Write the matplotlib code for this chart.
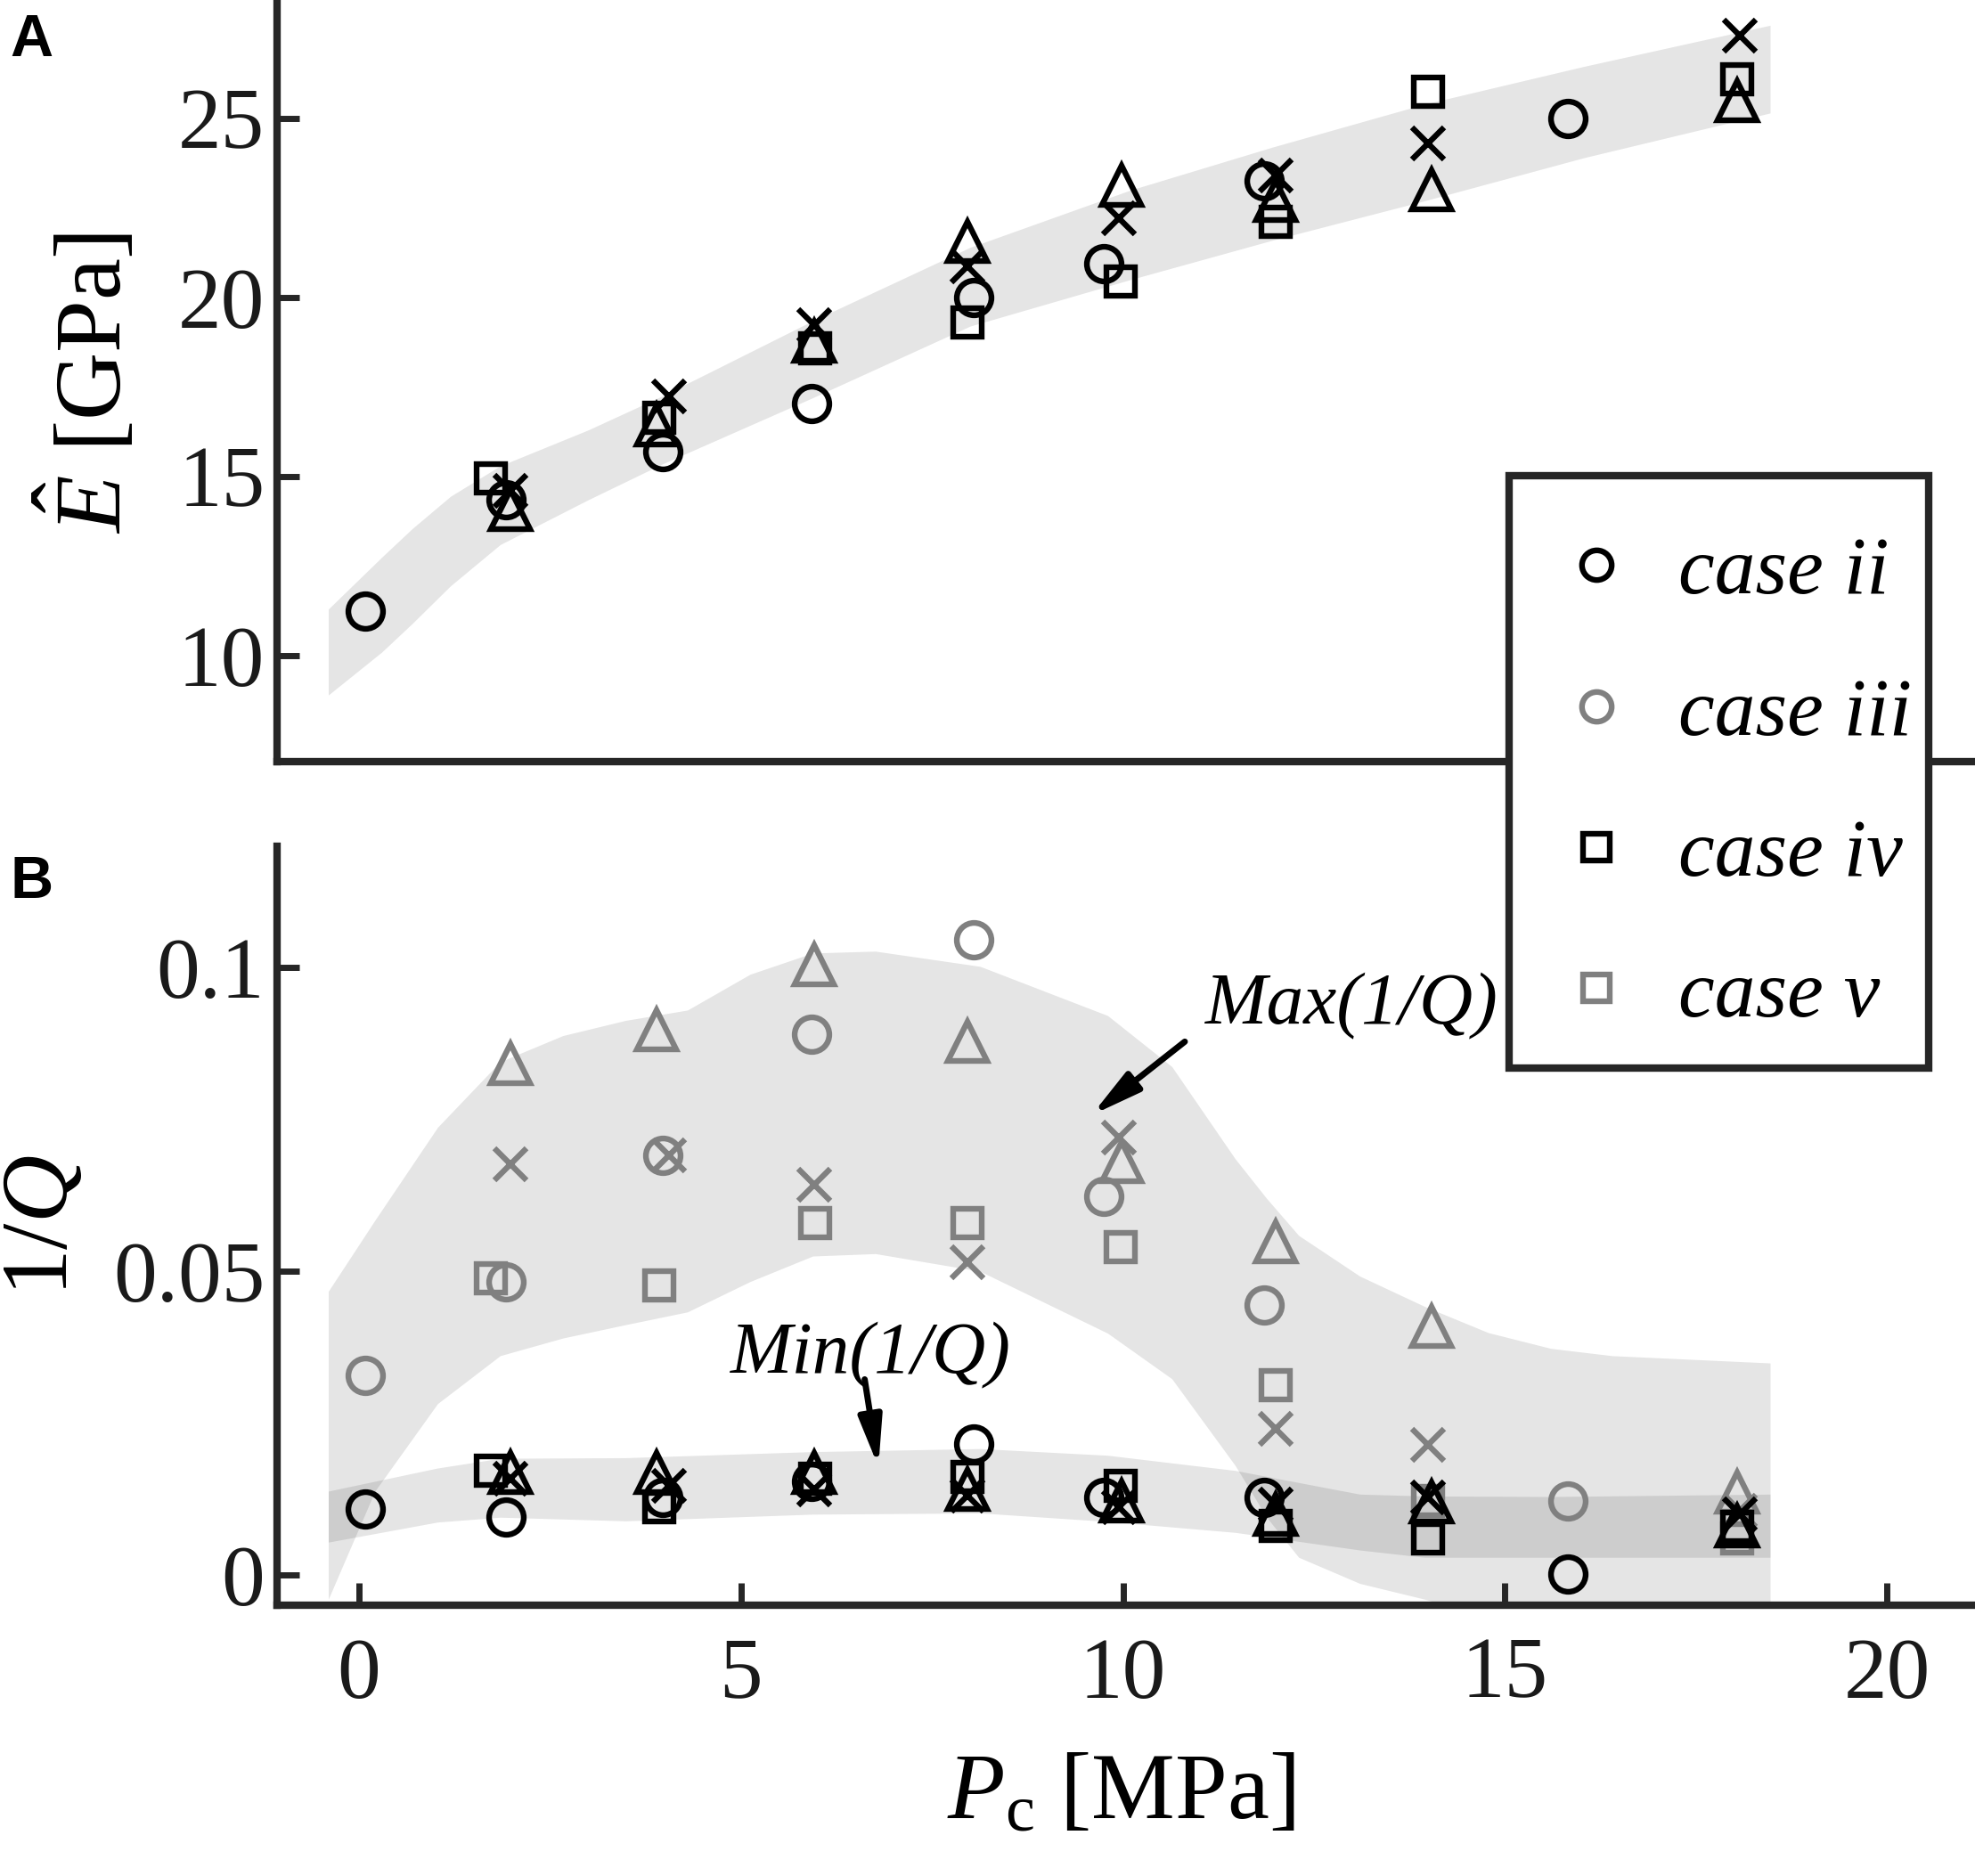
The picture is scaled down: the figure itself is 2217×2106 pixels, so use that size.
import matplotlib
matplotlib.use("Agg")
import matplotlib.pyplot as plt
from matplotlib.lines import Line2D
from matplotlib.patches import Rectangle

plt.rcParams['font.family'] = ['Liberation Serif', 'DejaVu Serif']
plt.rcParams['mathtext.fontset'] = 'custom'
plt.rcParams['mathtext.rm'] = 'Liberation Serif'
plt.rcParams['mathtext.it'] = 'Liberation Serif:italic'

# confining pressure of each marker type [MPa]
p_circ = [0.08, 1.93, 3.98, 5.92, 8.05, 9.75, 11.85, 15.82]
p_sq = [1.73, 3.93, 5.97, 7.97, 9.97, 12.0, 13.99, 18.04]
p_tri = [1.98, 3.9, 5.96, 7.97, 9.98, 12.0, 14.04, 18.04]
p_x = [1.98, 4.06, 5.96, 7.97, 9.95, 12.0, 13.99, 18.07]

# panel A: E hat [GPa]
E_circ = [11.25, 14.35, 15.7, 17.05, 20.0, 20.95, 23.25, 25.0]
E_sq = [14.95, 16.65, 18.57, 19.3, 20.45, 22.1, 25.75, 26.1]
E_tri = [14.08, 16.45, 18.78, 21.57, 23.13, 22.7, 23.0, 25.5]
E_x = [14.6, 17.25, 19.23, 20.87, 22.2, 23.4, 24.3, 27.3]

bandE_p = [-0.4, 0.3, 0.7, 1.2, 1.85, 3.0, 3.97, 5.94, 8.0, 10.1, 11.96, 13.95, 16.03, 18.47]
bandE_hi = [11.3, 12.75, 13.55, 14.45, 15.3, 16.3, 17.25, 19.35, 21.4, 23.0, 24.2, 25.4, 26.45, 27.6]
bandE_lo = [8.9, 10.1, 10.9, 11.95, 13.1, 14.35, 15.35, 17.2, 19.2, 20.5, 21.6, 22.7, 23.9, 25.15]

# panel B: 1/Q, max (gray) and min (black)
Qmax_circ = [0.0328, 0.0483, 0.0691, 0.089, 0.1046, 0.0623, 0.0444, 0.0122]
Qmin_circ = [0.0108, 0.0095, 0.0127, 0.0154, 0.0216, 0.0127, 0.0127, 0.0002]
Qmax_sq = [0.0488, 0.0477, 0.0579, 0.0579, 0.054, 0.0313, 0.0122, 0.006]
Qmin_sq = [0.0172, 0.0112, 0.0158, 0.0162, 0.0147, 0.0081, 0.006, 0.0079]
Qmax_tri = [0.0842, 0.0898, 0.1004, 0.0878, 0.068, 0.0548, 0.0409, 0.0137]
Qmin_tri = [0.0168, 0.0168, 0.0168, 0.0141, 0.0122, 0.01, 0.012, 0.0081]
Qmax_x = [0.0676, 0.0691, 0.0643, 0.0515, 0.072, 0.0241, 0.0214, 0.0106]
Qmin_x = [0.0158, 0.0147, 0.0141, 0.0131, 0.0112, 0.0116, 0.0127, 0.01]

bandMax_p = [-0.4, 0.21, 1.03, 1.85, 2.67, 3.49, 4.3, 5.12, 5.94, 6.76, 8.13, 9.8,
             10.64, 11.47, 11.88, 12.3, 13.1, 13.95, 14.78, 15.6, 16.4, 18.47]
bandMax_hi = [0.0467, 0.0584, 0.0737, 0.0845, 0.0888, 0.0913, 0.093, 0.0989, 0.1024,
              0.1027, 0.1002, 0.0921, 0.0837, 0.0685, 0.062, 0.0559, 0.0492, 0.0442,
              0.0399, 0.0373, 0.0361, 0.0349]
bandMax_lo = [-0.004, 0.0138, 0.0282, 0.0361, 0.039, 0.0412, 0.0433, 0.0483, 0.0525,
              0.0529, 0.05, 0.0398, 0.0323, 0.018, 0.0095, 0.0029, -0.0014, -0.004,
              -0.007, -0.009, -0.01, -0.01]

bandMin_p = [-0.4, 1.03, 1.85, 3.49, 5.94, 8.13, 9.8, 11.47, 13.1, 13.95, 15.6, 18.47]
bandMin_hi = [0.0138, 0.0176, 0.0192, 0.0193, 0.0203, 0.0208, 0.0197, 0.0172, 0.0133,
              0.013, 0.0129, 0.0133]
bandMin_lo = [0.0054, 0.0087, 0.0095, 0.0089, 0.01, 0.0102, 0.0088, 0.007, 0.0041,
              0.0029, 0.0029, 0.0029]

legend_labels = ['case ii', 'case iii', 'case iv', 'case v']

dark = '#262626'
gray = '#808080'
ms = {'o': 14, 's': 11.5, '^': 16, 'x': 13}
mew = 2.3

fig = plt.figure(figsize=(11.085, 10.53), dpi=200)
ax1 = fig.add_axes([0.1403, 0.594, 0.8577, 0.404])
ax2 = fig.add_axes([0.1403, 0.1443, 0.8577, 0.4047])

for ax in (ax1, ax2):
    ax.spines['top'].set_visible(False)
    ax.spines['right'].set_visible(False)
    for s in ('left', 'bottom'):
        ax.spines[s].set_linewidth(3)
        ax.spines[s].set_color(dark)
    ax.set_xlim(-1.07, 21.1)
    ax.tick_params(direction='in', length=9, width=2.5, color=dark,
                   labelsize=35, labelcolor='#1a1a1a')

# ---- panel A
ax1.fill_between(bandE_p, bandE_lo, bandE_hi, color='black', alpha=0.1, lw=0, zorder=1)
for p, v, m in [(p_circ, E_circ, 'o'), (p_sq, E_sq, 's'), (p_tri, E_tri, '^'), (p_x, E_x, 'x')]:
    ax1.plot(p, v, ls='none', marker=m, ms=ms[m], mfc='none', mec='black', mew=mew, zorder=3)
ax1.set_ylim(7.04, 28.2)
ax1.set_yticks([10, 15, 20, 25])
ax1.tick_params(axis='y', pad=5)
ax1.tick_params(axis='x', length=0, labelbottom=False)
ax1.set_ylabel(r'$\hat{E}$ [GPa]', fontsize=38)
ax1.yaxis.set_label_coords(-0.08, 0.5)

# ---- panel B
ax2.fill_between(bandMax_p, bandMax_lo, bandMax_hi, color='black', alpha=0.1, lw=0, zorder=1)
ax2.fill_between(bandMin_p, bandMin_lo, bandMin_hi, color='black', alpha=0.1, lw=0, zorder=1)
for p, v, m in [(p_circ, Qmax_circ, 'o'), (p_sq, Qmax_sq, 's'), (p_tri, Qmax_tri, '^'), (p_x, Qmax_x, 'x')]:
    ax2.plot(p, v, ls='none', marker=m, ms=ms[m], mfc='none', mec=gray, mew=mew, zorder=3)
for p, v, m in [(p_circ, Qmin_circ, 'o'), (p_sq, Qmin_sq, 's'), (p_tri, Qmin_tri, '^'), (p_x, Qmin_x, 'x')]:
    ax2.plot(p, v, ls='none', marker=m, ms=ms[m], mfc='none', mec='black', mew=mew, zorder=4)
ax2.set_ylim(-0.005, 0.12)
ax2.set_yticks([0, 0.05, 0.1])
ax2.set_yticklabels(['0', '0.05', '0.1'])
ax2.set_xticks([0, 5, 10, 15, 20])
ax2.tick_params(axis='y', pad=5)
ax2.tick_params(axis='x', pad=13)
ax2.set_ylabel('1/$Q$', fontsize=38)
ax2.yaxis.set_label_coords(-0.112, 0.5)
ax2.set_xlabel(r'$P_{\mathrm{c}}$ [MPa]', fontsize=38)
ax2.xaxis.set_label_coords(0.498, -0.195)

arrow_style = '-|>,head_length=0.55,head_width=0.13'
ax2.text(13.0, 0.0936, 'Max(1/Q)', fontsize=30, style='italic', ha='center', va='center')
ax2.annotate('', xy=(9.59, 0.0757), xytext=(10.81, 0.0878),
             arrowprops=dict(arrowstyle=arrow_style, lw=2.5, color='black',
                             mutation_scale=30, shrinkA=0, shrinkB=0))
ax2.text(6.7, 0.0361, 'Min(1/Q)', fontsize=30, style='italic', ha='center', va='center')
ax2.annotate('', xy=(6.8, 0.0178), xytext=(6.62, 0.0322),
             arrowprops=dict(arrowstyle=arrow_style, lw=2.5, color='black',
                             mutation_scale=30, shrinkA=0, shrinkB=0))

# panel letters
fig.text(0.005, 0.993, 'A', fontsize=24, fontweight='bold', family='Liberation Sans', va='top')
fig.text(0.005, 0.544, 'B', fontsize=24, fontweight='bold', family='Liberation Sans', va='top')

# legend box drawn by hand so its size matches, then the entries on top
box = Rectangle((0.764, 0.4309), 0.9764 - 0.764, 0.7463 - 0.4309, transform=fig.transFigure,
                facecolor='white', edgecolor=dark, linewidth=3, zorder=4)
fig.add_artist(box)
handles = [
    Line2D([], [], ls='none', marker='o', ms=12, mfc='none', mec='black', mew=mew),
    Line2D([], [], ls='none', marker='o', ms=12, mfc='none', mec=gray, mew=mew),
    Line2D([], [], ls='none', marker='s', ms=10.5, mfc='none', mec='black', mew=mew),
    Line2D([], [], ls='none', marker='s', ms=10.5, mfc='none', mec=gray, mew=mew),
]
leg = fig.legend(handles, legend_labels, loc='upper left', bbox_to_anchor=(0.764, 0.7463),
                 borderaxespad=0, borderpad=0.74, handlelength=0.66, handletextpad=0.67,
                 labelspacing=0.82, frameon=False,
                 prop={'family': 'Liberation Serif', 'style': 'italic', 'size': 33})
leg.set_zorder(5)

fig.savefig('out.png', dpi=200)
